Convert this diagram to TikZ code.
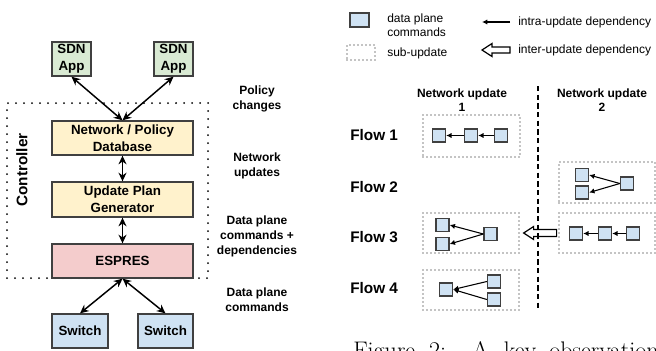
\documentclass[tikz,border=0pt]{standalone}
\usepackage{fontspec}
\newfontfamily\arial{Liberation Sans}
\usetikzlibrary{arrows.meta,calc}
\definecolor{bline}{HTML}{404040}
\definecolor{greenf}{HTML}{D9EAD3}
\definecolor{yellowf}{HTML}{FFF2CC}
\definecolor{pinkf}{HTML}{F4CCCC}
\definecolor{bluef}{HTML}{CFE2F3}
\begin{document}
\begin{tikzpicture}[x=0.75pt,y=-0.75pt,
  box/.style={draw=bline, line width=1pt, inner sep=0pt, align=center, font=\arial\bfseries\fontsize{10}{12.5}\selectfont},
  ctrlbox/.style={draw=black, line width=1.5pt, dash pattern=on 0pt off 6pt, line cap=round, inner sep=0pt},
  subbox/.style={draw=black, line width=0.95pt, dash pattern=on 0pt off 3pt, line cap=round, inner sep=0pt},
  cmd/.style={draw=bline, line width=1pt, fill=bluef, inner sep=0pt, minimum width=9.75pt, minimum height=9.75pt},
  dbl/.style={line width=1.1pt, {Stealth[length=6.5pt,width=6pt]}-{Stealth[length=6.5pt,width=6pt]}},
  intra/.style={line width=0.8pt, -{Latex[length=4pt,width=4pt]}},
  hollow/.style={draw=black, line width=0.9pt, fill=white, line join=miter},
  lbl/.style={font=\arial\bfseries\fontsize{9}{11}\selectfont, align=center},
  leg/.style={font=\arial\fontsize{9}{10.5}\selectfont, align=left, anchor=west, inner sep=0pt},
  flow/.style={font=\arial\bfseries\fontsize{11.5}{13}\selectfont, anchor=west, inner sep=0pt},
  hdr/.style={font=\arial\bfseries\fontsize{9}{11}\selectfont, align=center},
]
\useasboundingbox (0,0) rectangle (656,350);

% ---------------- left: architecture ----------------
\node[ctrlbox, minimum width=150.75pt, minimum height=131.25pt] (ctrl) at (107.5,190.5) {};
\node[font=\arial\bfseries\fontsize{11.5}{13}\selectfont, rotate=90] (ctrllbl) at (22,170) {Controller};

\node[box, fill=greenf, minimum width=29.25pt, minimum height=25.5pt] (app1) at (71.5,59) {SDN\\App};
\node[box, fill=greenf, minimum width=29.25pt, minimum height=25.5pt] (app2) at (173.5,59) {SDN\\App};
\node[box, fill=yellowf, minimum width=105.75pt, minimum height=25.5pt] (db) at (122.5,138) {Network / Policy\\Database};
\node[box, fill=yellowf, minimum width=105.75pt, minimum height=26.25pt] (upg) at (122.5,199.5) {Update Plan\\Generator};
\node[box, fill=pinkf, minimum width=105.75pt, minimum height=25.5pt] (espres) at (122.5,261) {ESPRES};
\node[box, fill=bluef, minimum width=42pt, minimum height=25.5pt] (sw1) at (80,331) {Switch};
\node[box, fill=bluef, minimum width=41.25pt, minimum height=25.5pt] (sw2) at (165.5,331) {Switch};

\draw[dbl] (app1.south) -- (db.north);
\draw[dbl] (app2.south) -- (db.north);
\draw[dbl] (db.south) -- (upg.north);
\draw[dbl] (upg.south) -- (espres.north);
\draw[dbl] (espres.south) -- (sw1.north);
\draw[dbl] (espres.south) -- (sw2.north);

\node[lbl] (l1) at (257,99) {Policy\\changes};
\node[lbl] (l2) at (257,166) {Network\\updates};
\node[lbl] (l3) at (257,236.5) {Data plane\\commands +\\dependencies};
\node[lbl] (l4) at (257,299.5) {Data plane\\commands};

% ---------------- right: legend ----------------
\node[cmd, minimum width=14.25pt, minimum height=10.5pt] (legsq) at (359.5,20) {};
\node[leg] (legsqt) at (387,25) {data plane\\commands};
\node[subbox, minimum width=21pt, minimum height=11.25pt] (legsub) at (361,52.5) {};
\node[leg] (legsubt) at (387,53) {sub-update};
\coordinate (lia) at (510,22);
\coordinate (lib) at (482,22);
\draw[intra] (lia) -- (lib);
\node[leg] (legintra) at (518,22) {intra-update dependency};
\coordinate (lht) at (482,50);
\draw[hollow] (lht) -- ++(10,-6.5) -- ++(0,3.5) -- ++(18,0) -- ++(0,6) -- ++(-18,0) -- ++(0,3.5) -- cycle;
\node[leg] (leginter) at (518,50) {inter-update dependency};

% ---------------- right: updates ----------------
\node[hdr] (h1) at (462,100) {Network update\\1};
\node[hdr] (h2) at (602,100) {Network update\\2};

\node[flow] (fl1) at (350,135) {Flow 1};
\node[flow] (fl2) at (350,187) {Flow 2};
\node[flow] (fl3) at (350,237) {Flow 3};
\node[flow] (fl4) at (350,288) {Flow 4};

% flow 1, update 1
\node[subbox, minimum width=72.75pt, minimum height=31.5pt] (f1) at (471.5,136) {};
\node[cmd] (f1a) at (439,135.5) {};
\node[cmd] (f1b) at (471,135.5) {};
\node[cmd] (f1c) at (501,135.5) {};
\draw[intra] (f1b.west) -- (f1a.east);
\draw[intra] (f1c.west) -- (f1b.east);

% flow 2, update 2
\node[subbox, minimum width=72pt, minimum height=30.75pt] (f2) at (607,182.5) {};
\node[cmd] (f2a) at (582,175) {};
\node[cmd] (f2b) at (582,192.5) {};
\node[cmd] (f2c) at (627,183.5) {};
\draw[intra] (f2c.west) -- (f2a.east);
\draw[intra] (f2c.west) -- (f2b.east);

% flow 3, update 1
\node[subbox, minimum width=72pt, minimum height=30pt] (f3a) at (471,233) {};
\node[cmd] (f3aa) at (442.5,225) {};
\node[cmd] (f3ab) at (442.5,244) {};
\node[cmd] (f3ac) at (490.5,234) {};
\draw[intra] (f3ac.west) -- (f3aa.east);
\draw[intra] (f3ac.west) -- (f3ab.east);

% flow 3, update 2
\node[subbox, minimum width=72pt, minimum height=30pt] (f3b) at (607,233) {};
\node[cmd] (f3ba) at (576,233.5) {};
\node[cmd] (f3bb) at (605,233.5) {};
\node[cmd] (f3bc) at (633,233.5) {};
\draw[intra] (f3bb.west) -- (f3ba.east);
\draw[intra] (f3bc.west) -- (f3bb.east);

% flow 4, update 1
\node[subbox, minimum width=72pt, minimum height=30pt] (f4) at (471,290) {};
\node[cmd] (f4a) at (446,289.5) {};
\node[cmd] (f4b) at (494,281.5) {};
\node[cmd] (f4c) at (494,299.5) {};
\draw[intra] (f4b.west) -- (f4a.east);
\draw[intra] (f4c.west) -- (f4a.east);

% inter-update dependency
\coordinate (itip) at ($(f3a.east)+(4,0)$);
\draw[hollow] (itip) -- ++(10,-6.5) -- ++(0,3) -- ++(23,0) -- ++(0,7) -- ++(-23,0) -- ++(0,3) -- cycle;

% separator
\coordinate (sept) at (538,86);
\coordinate (sepb) at (538,310);
\draw[line width=1pt, dash pattern=on 4pt off 2.5pt] (sept) -- (sepb);

% clipped caption (cut by the page edge, as in the reference)
\begin{scope}
\clip (0,0) rectangle (656,350);
\node[anchor=base west, inner sep=0pt, font=\fontsize{18}{22}\selectfont] (cap) at (353,358) {Figure\hspace{10.5pt}2:\hspace{19.5pt}A\hspace{11.25pt}key\hspace{9.75pt}observation};
\end{scope}
\end{tikzpicture}
\end{document}
